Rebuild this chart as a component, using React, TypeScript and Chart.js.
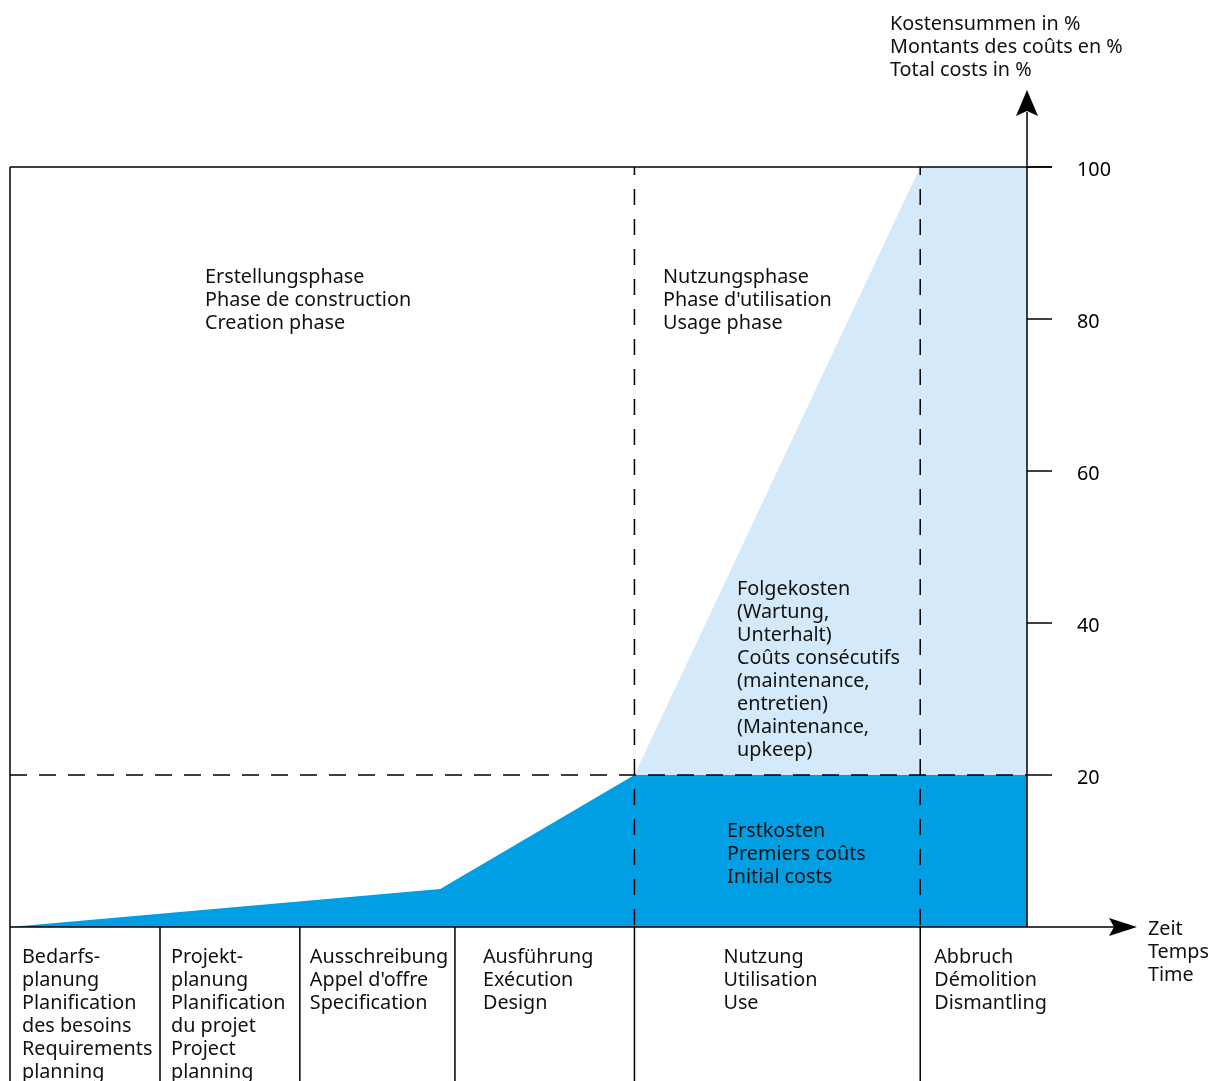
import React, { useEffect, useRef } from "react";
import { Chart, registerables } from "chart.js";

Chart.register(...registerables);

// x in "time" units (0..100 = start of building life .. right axis)
const phaseBoundaries = [0, 14.75, 28.5, 43.75, 61.4, 89.5, 100];
const initialCostX = [0, 42.3, 61.4, 100];
const initialCostY = [0, 5, 20, 20];
const followCostX = [61.4, 89.5, 100];
const followCostY = [20, 100, 100];
const yTicks = [20, 40, 60, 80, 100];
const yTitle = ["Kostensummen in %", "Montants des coûts en %", "Total costs in %"];
const xTitle = ["Zeit", "Temps", "Time"];
const creationLabel = ["Erstellungsphase", "Phase de construction", "Creation phase"];
const usageLabel = ["Nutzungsphase", "Phase d'utilisation", "Usage phase"];
const followLabel = [
  "Folgekosten",
  "(Wartung,",
  "Unterhalt)",
  "Coûts consécutifs",
  "(maintenance,",
  "entretien)",
  "(Maintenance,",
  "upkeep)",
];
const initialLabel = ["Erstkosten", "Premiers coûts", "Initial costs"];
const phaseNames = [
  ["Bedarfs-", "planung", "Planification", "des besoins", "Requirements", "planning"],
  ["Projekt-", "planung", "Planification", "du projet", "Project", "planning"],
  ["Ausschreibung", "Appel d'offre", "Specification"],
  ["Ausführung", "Exécution", "Design"],
  ["Nutzung", "Utilisation", "Use"],
  ["Abbruch", "Démolition", "Dismantling"],
];
const phaseTextOffsets = [12, 11, 10, 28, 89, 14];

const FONT = '19.8px "Noto Sans"';
const LH = 23;

export default function App() {
  const ref = useRef<HTMLCanvasElement | null>(null);

  useEffect(() => {
    const canvas = ref.current!;
    const overlay = {
      id: "overlay",
      beforeDraw(chart: any) {
        const c = chart.ctx;
        c.save();
        c.fillStyle = "#ffffff";
        c.fillRect(0, 0, chart.width, chart.height);
        c.restore();
      },
      afterDatasetsDraw(chart: any) {
        const c: CanvasRenderingContext2D = chart.ctx;
        const xs = chart.scales.x;
        const ys = chart.scales.y;
        const L = xs.getPixelForValue(0);
        const R = xs.getPixelForValue(100);
        const T = ys.getPixelForValue(100);
        const B = ys.getPixelForValue(0);
        const H = chart.height;
        c.save();
        c.strokeStyle = "#000";
        c.fillStyle = "#000";
        c.lineWidth = 1.5;

        const line = (x1: number, y1: number, x2: number, y2: number, dash: number[] = []) => {
          c.setLineDash(dash);
          c.beginPath();
          c.moveTo(x1, y1);
          c.lineTo(x2, y2);
          c.stroke();
          c.setLineDash([]);
        };

        // frame
        line(L, T, L, H);
        line(L, T, R + 25, T);
        // y axis
        line(R, 112, R, B);
        // ticks + labels
        c.font = FONT;
        c.textBaseline = "middle";
        c.textAlign = "left";
        for (const t of yTicks) {
          const y = ys.getPixelForValue(t);
          line(R, y, R + 25, y);
          c.fillText(String(t), R + 50, y + 3);
        }
        // dashed guides
        const y20 = ys.getPixelForValue(20);
        line(L, y20, R, y20, [17, 12]);
        for (const b of [phaseBoundaries[4], phaseBoundaries[5]]) {
          const x = xs.getPixelForValue(b);
          c.lineDashOffset = 8;
          line(x, T, x, B, [16, 14]);
          c.lineDashOffset = 0;
        }
        // x axis
        line(L, B, R + 88, B);
        // arrows
        c.beginPath();
        c.moveTo(R, 90);
        c.lineTo(R + 11, 116);
        c.lineTo(R, 111);
        c.lineTo(R - 11, 116);
        c.closePath();
        c.fill();
        c.beginPath();
        c.moveTo(R + 110, B);
        c.lineTo(R + 82, B - 9);
        c.lineTo(R + 87, B);
        c.lineTo(R + 82, B + 9);
        c.closePath();
        c.fill();
        // table dividers
        for (let i = 1; i < phaseBoundaries.length - 1; i++) {
          const x = xs.getPixelForValue(phaseBoundaries[i]);
          line(x, B, x, H);
        }

        const block = (lines: string[], x: number, y: number) => {
          lines.forEach((s, i) => c.fillText(s, x, y + i * LH));
        };
        c.fillStyle = "#111";
        block(yTitle, 890, 24);
        block(xTitle, R + 121, B + 2);
        block(creationLabel, 205, 277);
        block(usageLabel, 663, 277);
        block(followLabel, 737, 589);
        block(initialLabel, 727, 831);
        phaseNames.forEach((lines, i) => {
          const x = xs.getPixelForValue(phaseBoundaries[i]) + phaseTextOffsets[i];
          block(lines, x, B + 30);
        });
        c.restore();
      },
    };

    const chart = new Chart(canvas, {
      type: "line",
      data: {
        datasets: [
          {
            label: "Folgekosten",
            data: followCostX.map((x, i) => ({ x, y: followCostY[i] })),
            backgroundColor: "#d4eafa",
            borderWidth: 0,
            pointRadius: 0,
            fill: { value: 20 },
            tension: 0,
          },
          {
            label: "Erstkosten",
            data: initialCostX.map((x, i) => ({ x, y: initialCostY[i] })),
            backgroundColor: "#009fe3",
            borderWidth: 0,
            pointRadius: 0,
            fill: "origin",
            tension: 0,
          },
        ],
      },
      options: {
        animation: false,
        responsive: false,
        devicePixelRatio: 1,
        layout: { padding: { left: 10, right: 185, top: 167, bottom: 154 } },
        plugins: { legend: { display: false }, tooltip: { enabled: false } },
        scales: {
          x: { type: "linear", min: 0, max: 100, display: false },
          y: { type: "linear", min: 0, max: 100, display: false },
        },
      },
      plugins: [overlay],
    });
    return () => chart.destroy();
  }, []);

  return (
    <div style={{ position: "absolute", left: 0, top: 0, width: 1212, height: 1081 }}>
      <canvas ref={ref} width={1212} height={1081} />
    </div>
  );
}
